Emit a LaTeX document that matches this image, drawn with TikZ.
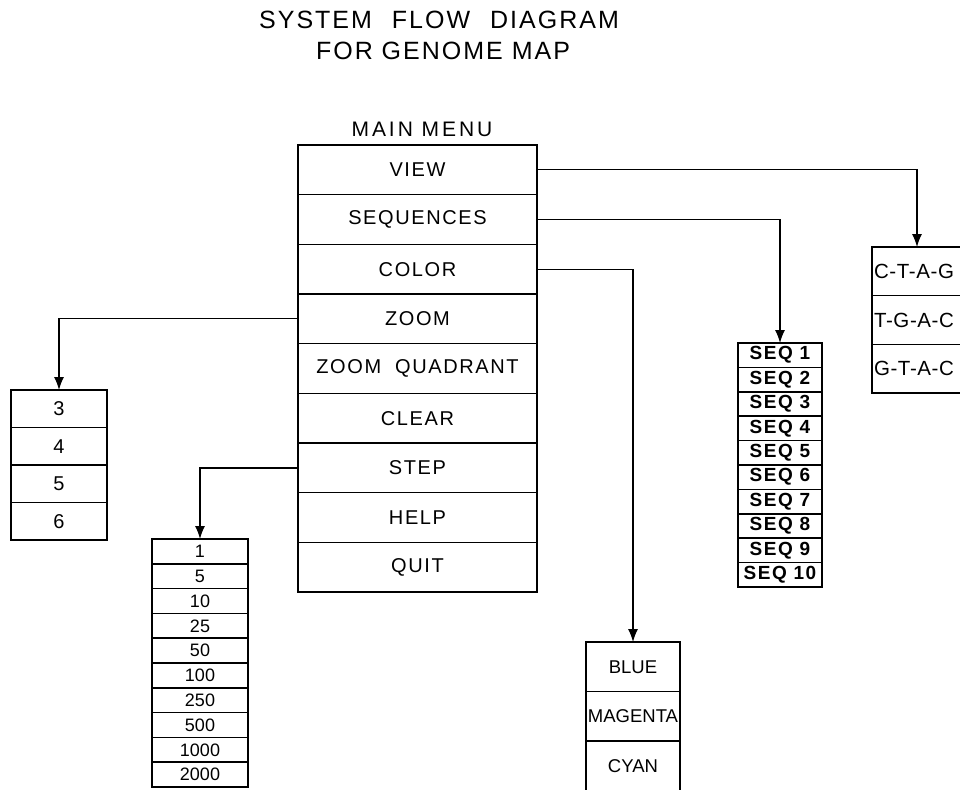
\documentclass[tikz,border=0pt]{standalone}
\usepackage{fontspec}
\setmainfont{Liberation Sans}
\usetikzlibrary{arrows.meta}
\begin{document}
\begin{tikzpicture}[x=1pt,y=-1pt,
  every node/.style={inner sep=0pt,outer sep=0pt},
  cell/.style 2 args={draw,line width=1.5pt,minimum width=#1,minimum height=#2,anchor=north},
  conn/.style={line width=1.3pt,-{Latex[length=13pt,width=10pt]}},
  ftitle/.style={font=\fontsize{25}{25}\selectfont\addfontfeature{LetterSpace=8}},
  fmenu/.style={font=\fontsize{21}{21}\selectfont\addfontfeature{LetterSpace=14}},
  fmain/.style={font=\fontsize{20}{20}\selectfont\addfontfeature{LetterSpace=8}},
  fz/.style={font=\fontsize{20}{20}\selectfont},
  fs/.style={font=\fontsize{18}{18}\selectfont},
  fq/.style={font=\fontsize{19}{19}\selectfont\bfseries\addfontfeature{LetterSpace=8}},
  fc/.style={font=\fontsize{18.5}{18.5}\selectfont},
  fg/.style={font=\fontsize{20.5}{20.5}\selectfont\addfontfeature{LetterSpace=3}}]
\useasboundingbox (0,0) rectangle (960,789);
\fill[white] (0,0) rectangle (960,789);
% title
\node[ftitle] (t1) at (439,20) {SYSTEM\hspace{20pt}FLOW\hspace{20pt}DIAGRAM};
\node[ftitle] (t2) at (443,51) {FOR GENOME MAP};
% main menu
\node[fmenu] (mm) at (422,129) {MAIN MENU};
\foreach \t [count=\i] in {VIEW,SEQUENCES,COLOR,ZOOM,{ZOOM\hspace{14pt}QUADRANT},CLEAR,STEP,HELP,QUIT}
  \node[cell={239pt}{49.67pt},fmain] (m\i) at (417.5,{145+(\i-1)*49.67}) {\t};
% zoom factors
\foreach \t [count=\i] in {3,4,5,6}
  \node[cell={96pt}{37.5pt},fz] (z\i) at (59,{390+(\i-1)*37.5}) {\t};
% step sizes
\foreach \t [count=\i] in {1,5,10,25,50,100,250,500,1000,2000}
  \node[cell={96pt}{24.8pt},fs] (st\i) at (200,{539+(\i-1)*24.8}) {\t};
% sequences
\foreach \i in {1,...,10}
  \node[cell={84pt}{24.4pt},fq] (s\i) at (780,{343+(\i-1)*24.4}) {SEQ \i};
% colours
\foreach \t [count=\i] in {BLUE,MAGENTA,CYAN}
  \node[cell={94pt}{49.5pt},fc] (b\i) at (633,{642+(\i-1)*49.5}) {\t};
% views
\foreach \t [count=\i] in {C-T-A-G,T-G-A-C,G-T-A-C}
  \node[cell={90pt}{48.7pt},fg,text width=86pt,align=left] (c\i) at (917,{247+(\i-1)*48.7}) {\t};
% connectors
\draw[conn] (m1.east) -| (c1.north);
\draw[conn] (m2.east) -| (s1.north);
\draw[conn] (m3.east) -| (b1.north);
\draw[conn] (m4.west) -| (z1.north);
\draw[conn] (m7.west) -| (st1.north);
\end{tikzpicture}
\end{document}
